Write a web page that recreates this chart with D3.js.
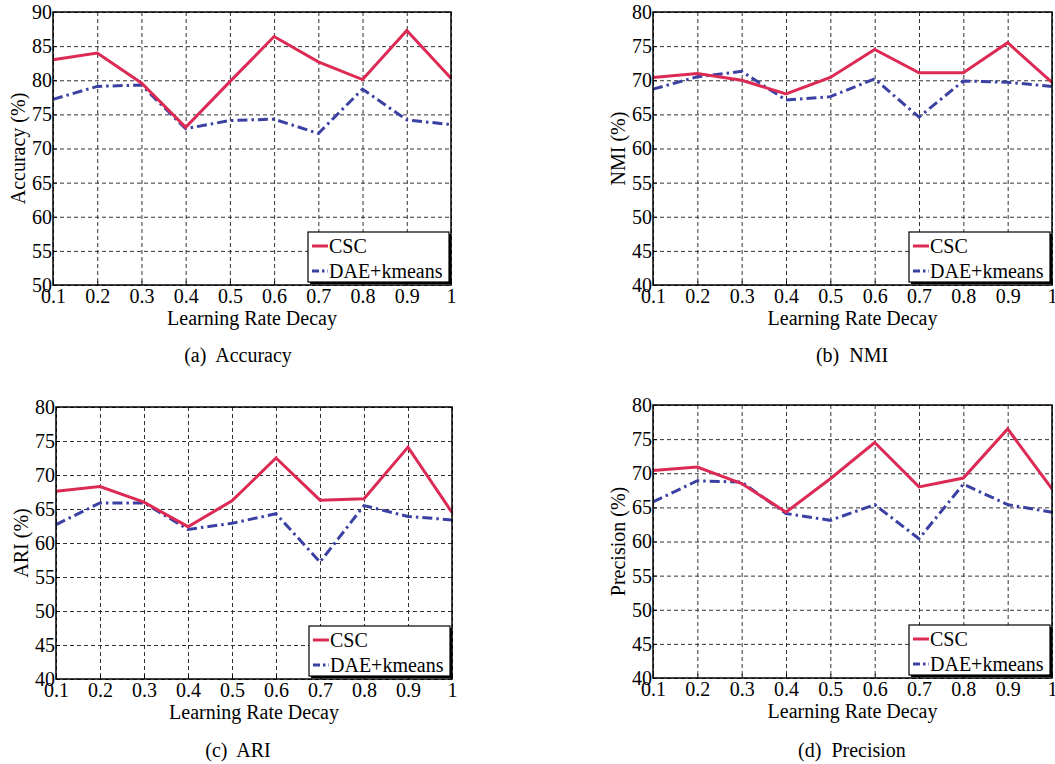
<!DOCTYPE html>
<html>
<head>
<meta charset="utf-8">
<script src="https://d3js.org/d3.v7.min.js"></script>
<style>
  body { margin:0; background:#fff; }
  svg text { font-family: "Liberation Serif", "Times New Roman", serif; fill:#000; }
  .grid line { stroke:#333; stroke-dasharray:4,3; stroke-width:1; }
  .grid path { display:none; }
  .axis path { display:none; }
  .axis line { stroke:#000; }
  .axis text { font-size:20px; }
</style>
</head>
<body>
<script>

  // x values (learning rate decay)
  var decay = [0.1, 0.2, 0.3, 0.4, 0.5, 0.6, 0.7, 0.8, 0.9, 1.0];
  var xTickLabels = ["0.1", "0.2", "0.3", "0.4", "0.5", "0.6", "0.7", "0.8", "0.9", "1"];

  var seriesNames = ["CSC", "DAE+kmeans"];

  // (a) Accuracy
  var accCSC = [83.0, 84.0, 79.6, 73.1, 79.8, 86.4, 82.7, 80.1, 87.3, 80.3];
  var accDAE = [77.2, 79.1, 79.3, 72.9, 74.1, 74.3, 72.2, 78.7, 74.2, 73.5];
  // (b) NMI
  var nmiCSC = [70.4, 71.0, 70.0, 68.0, 70.4, 74.5, 71.1, 71.1, 75.5, 69.7];
  var nmiDAE = [68.7, 70.5, 71.3, 67.1, 67.6, 70.2, 64.6, 69.9, 69.7, 69.1];
  // (c) ARI
  var ariCSC = [67.6, 68.3, 66.0, 62.4, 66.2, 72.5, 66.3, 66.5, 74.1, 64.5];
  var ariDAE = [62.7, 65.9, 65.9, 62.0, 62.9, 64.3, 57.2, 65.5, 63.9, 63.4];
  // (d) Precision
  var preCSC = [70.4, 70.9, 68.5, 64.3, 69.2, 74.5, 68.0, 69.3, 76.5, 67.7];
  var preDAE = [65.8, 68.9, 68.7, 64.1, 63.1, 65.4, 60.4, 68.4, 65.4, 64.3];

  var yTicksAcc = [50, 55, 60, 65, 70, 75, 80, 85, 90];
  var yTicks40 = [40, 45, 50, 55, 60, 65, 70, 75, 80];

  var colors = ["#dc2a55", "#3a41a3"];

  var panels = [
    {x0: 53,  x1: 451,  y0: 12,  y1: 285, ylab: "Accuracy (%)",  ticks: yTicksAcc, csc: accCSC, dae: accDAE, cap: "(a)  Accuracy",  capX: 238, capY: 362, labX: 18},
    {x0: 653, x1: 1052, y0: 12,  y1: 285, ylab: "NMI (%)",       ticks: yTicks40,  csc: nmiCSC, dae: nmiDAE, cap: "(b)  NMI",       capX: 852, capY: 362, labX: 618},
    {x0: 56,  x1: 452,  y0: 407, y1: 679, ylab: "ARI (%)",       ticks: yTicks40,  csc: ariCSC, dae: ariDAE, cap: "(c)  ARI",       capX: 238, capY: 757, labX: 21},
    {x0: 653, x1: 1052, y0: 405, y1: 678, ylab: "Precision (%)", ticks: yTicks40,  csc: preCSC, dae: preDAE, cap: "(d)  Precision", capX: 852, capY: 757, labX: 618}
  ];

  var svg = d3.select("body").append("svg")
    .attr("width", 1055)
    .attr("height", 764);

  panels.forEach(function(p) {
    var w = p.x1 - p.x0, h = p.y1 - p.y0;
    var x = d3.scaleLinear().domain([0.1, 1]).range([0, w]);
    var y = d3.scaleLinear().domain(d3.extent(p.ticks)).range([h, 0]);

    var g = svg.append("g").attr("transform", "translate(" + p.x0 + "," + p.y0 + ")");

    // dashed grid
    g.append("g").attr("class", "grid")
      .attr("transform", "translate(0," + h + ")")
      .call(d3.axisBottom(x).tickValues(decay).tickSize(h).tickFormat(""))
      .attr("transform", "translate(0,0)")
      .selectAll("line").attr("y1", 0).attr("y2", h);
    g.append("g").attr("class", "grid")
      .call(d3.axisLeft(y).tickValues(p.ticks).tickSize(-w).tickFormat(""));

    // axes with inward ticks
    g.append("g").attr("class", "axis")
      .attr("transform", "translate(0," + h + ")")
      .call(d3.axisBottom(x).tickValues(decay).tickSize(-4).tickPadding(4)
        .tickFormat(function(d, i) { return xTickLabels[i]; }));
    g.append("g").attr("class", "axis")
      .call(d3.axisLeft(y).tickValues(p.ticks).tickSize(-4).tickPadding(1));

    // lines
    var line = d3.line().x(function(d, i) { return x(decay[i]); }).y(function(d) { return y(d); });
    g.append("path").datum(p.dae)
      .attr("fill", "none").attr("stroke", colors[1]).attr("stroke-width", 3)
      .attr("stroke-dasharray", "10,4,2.5,4")
      .attr("d", line);
    g.append("path").datum(p.csc)
      .attr("fill", "none").attr("stroke", colors[0]).attr("stroke-width", 3)
      .attr("stroke-linejoin", "miter")
      .attr("d", line);

    // frame
    g.append("rect").attr("width", w).attr("height", h)
      .attr("fill", "none").attr("stroke", "#000").attr("stroke-width", 1.5);

    // legend
    var lg = g.append("g").attr("transform", "translate(" + (w - 143) + "," + (h - 53) + ")");
    lg.append("rect").attr("x", 2).attr("y", 2).attr("width", 141).attr("height", 50)
      .attr("fill", "#000");
    lg.append("rect").attr("width", 141).attr("height", 50)
      .attr("fill", "#fff").attr("stroke", "#000").attr("stroke-width", 1.2);
    seriesNames.forEach(function(name, i) {
      var yy = 14 + i * 25;
      lg.append("line").attr("x1", 4).attr("x2", 20).attr("y1", yy).attr("y2", yy)
        .attr("stroke", colors[i]).attr("stroke-width", 3)
        .attr("stroke-dasharray", i === 1 ? "7,3,2.5,3" : null);
      lg.append("text").attr("x", 21).attr("y", yy + 7)
        .style("font-size", "20px").text(name);
    });

    // axis titles
    svg.append("text")
      .attr("transform", "translate(" + (p.labX + 7) + "," + ((p.y0 + p.y1) / 2) + ") rotate(-90)")
      .attr("text-anchor", "middle").style("font-size", "20px")
      .text(p.ylab);
    svg.append("text")
      .attr("x", (p.x0 + p.x1) / 2).attr("y", p.y1 + 40)
      .attr("text-anchor", "middle").style("font-size", "20px")
      .text("Learning Rate Decay");

    // caption
    svg.append("text")
      .attr("x", p.capX).attr("y", p.capY)
      .attr("text-anchor", "middle").style("font-size", "20px")
      .style("white-space", "pre")
      .text(p.cap);
  });

</script>
</body>
</html>
